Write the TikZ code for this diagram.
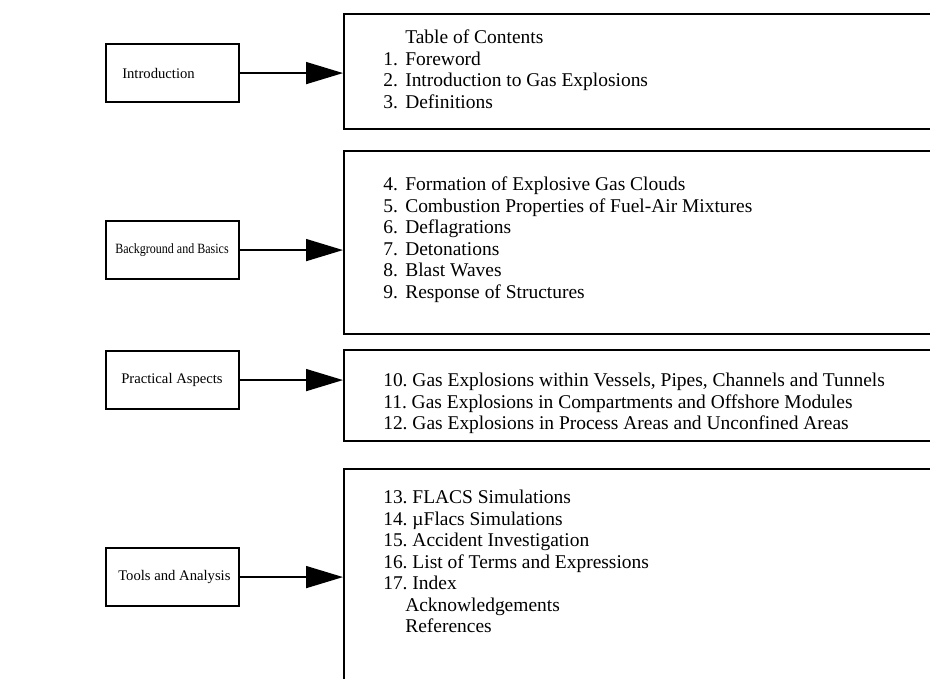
\documentclass[tikz,border=0pt]{standalone}
\usepackage{fontspec}
\setmainfont{Liberation Serif}
\usetikzlibrary{arrows.meta}
\newcommand{\itm}[2]{\makebox[16.5pt][l]{#1}#2}
\newcommand{\itmm}[2]{#1\ #2}
\begin{document}
\begin{tikzpicture}[x=0.75pt,y=-0.75pt,line cap=butt,line join=miter,
		font=\fontsize{14.6}{16.1}\selectfont]
	\tikzset{lbox/.style={draw,line width=1.6pt,anchor=north west,minimum width=99.75pt,
			inner sep=0pt,minimum height=43.5pt},
		ltxt/.style={anchor=west,inner sep=0pt,font=\fontsize{11}{13}\selectfont},
		rbox/.style={draw,line width=1.6pt,anchor=north west,minimum width=465pt,inner sep=0pt},
		lst/.style={anchor=north west,align=left,inner sep=0pt},
		arr/.style={-{Triangle[length=27.75pt,width=16.5pt]},line width=1.2pt}}
	\useasboundingbox (0,0) rectangle (930,678);
	\clip (0,0) rectangle (930,678);
	% parts
	\foreach \n/\y/\dx/\t in {intro/43/17/Introduction,
			basic/220/10/{\fontsize{10.6}{13}\selectfont\scalebox{0.85}[1]{Background and Basics}},
			pract/350/16/Practical Aspects,tools/547/13/Tools and Analysis}{
		\node[lbox] (\n) at (105,\y) {};
		\node[ltxt] (\n-t) at ([xshift=\dx*0.75pt]\n.west) {\t};}
	% chapter boxes, open to the right
	\foreach \n/\y/\h in {toc1/13/86.25,toc2/150/137.25,toc3/349/68.25,toc4/468/187.5}
		\node[rbox,minimum height=\h pt] (\n) at (343,\y) {};
	\node[lst] (list1) at (383,30) {\itm{}{Table of Contents}\\ \itm{1.}{Foreword}\\
		\itm{2.}{Introduction to Gas Explosions}\\ \itm{3.}{Definitions}};
	\node[lst] (list2) at (383,177) {\itm{4.}{Formation of Explosive Gas Clouds}\\
		\itm{5.}{Combustion Properties of Fuel-Air Mixtures}\\ \itm{6.}{Deflagrations}\\
		\itm{7.}{Detonations}\\ \itm{8.}{Blast Waves}\\ \itm{9.}{Response of Structures}};
	\node[lst] (list3) at (383,373) {\itmm{10.}{Gas Explosions within Vessels, Pipes, Channels and Tunnels}\\
		\itmm{11.}{Gas Explosions in Compartments and Offshore Modules}\\
		\itmm{12.}{Gas Explosions in Process Areas and Unconfined Areas}};
	\node[lst] (list4) at (383,490) {\itmm{13.}{FLACS Simulations}\\ \itmm{14.}{µFlacs Simulations}\\
		\itmm{15.}{Accident Investigation}\\ \itmm{16.}{List of Terms and Expressions}\\
		\itmm{17.}{Index}\\ \itm{}{Acknowledgements}\\ \itm{}{References}};
	\foreach \a/\b in {intro/toc1,basic/toc2,pract/toc3,tools/toc4}
		\draw[arr] (\a.east) -- (\a.east -| \b.west);
\end{tikzpicture}
\end{document}
